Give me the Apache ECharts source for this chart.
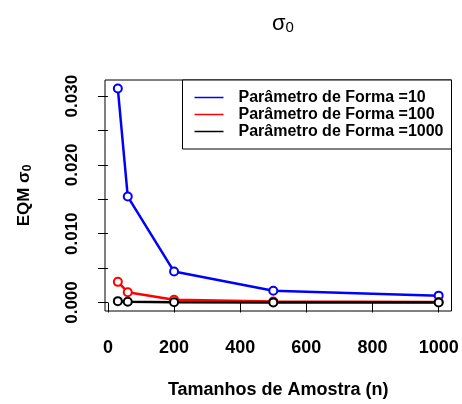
<!DOCTYPE html>
<html>
<head>
<meta charset="utf-8">
<script src="https://cdn.jsdelivr.net/npm/echarts@6/dist/echarts.min.js"></script>
<style>
  html, body { margin: 0; padding: 0; background: #fff; }
  #chart { width: 462px; height: 404px; }
</style>
</head>
<body>
<div id="chart"></div>
<script>
// Sample sizes and mean squared error of sigma_0 for each shape parameter
const sampleSizes = [30, 60, 200, 500, 1000];
const eqmShape10 = [0.0311, 0.0154, 0.0045, 0.0017, 0.0010];
const eqmShape100 = [0.0030, 0.0015, 0.0004, 0.00015, 0.00007];
const eqmShape1000 = [0.0002, 0.0001, 0.00005, 0.00002, 0.00001];
const seriesNames = ['Parâmetro de Forma =10', 'Parâmetro de Forma =100', 'Parâmetro de Forma =1000'];
const seriesColors = ['#0000ff', '#ff0000', '#000000'];

const xTicks = [0, 200, 400, 600, 800, 1000];
const yTicks = [0, 0.005, 0.010, 0.015, 0.020, 0.025, 0.030];
const yTickLabels = [0, 0.010, 0.020, 0.030];

const FONT = 'Liberation Sans, Arial, Helvetica, sans-serif';

// Axis ranges padded by 4% of the data range on each side
function paddedRange(values) {
  const lo = Math.min(...values), hi = Math.max(...values);
  const pad = 0.04 * (hi - lo);
  return [lo - pad, hi + pad];
}
const allY = eqmShape10.concat(eqmShape100, eqmShape1000);
const [xMin, xMax] = paddedRange(sampleSizes);
const [yMin, yMax] = paddedRange(allY);

const seriesData = [eqmShape10, eqmShape100, eqmShape1000];

const chart = echarts.init(document.getElementById('chart'), null, { renderer: 'canvas' });
chart.setOption({
  animation: false,
  backgroundColor: '#ffffff',
  textStyle: { fontFamily: FONT },
  title: {
    text: '{s|σ}{sub|0}',
    left: 278,
    top: 5,
    textAlign: 'center',
    textStyle: {
      rich: {
        s: { fontFamily: FONT, fontSize: 22, fontWeight: 'normal', color: '#000', verticalAlign: 'bottom' },
        sub: { fontFamily: FONT, fontSize: 15, fontWeight: 'normal', color: '#000', padding: [10, 0, 0, 0] }
      }
    }
  },
  grid: {
    left: 105, top: 80, right: 10.5, bottom: 93,
    show: true, borderColor: '#000', borderWidth: 1, backgroundColor: 'transparent'
  },
  legend: {
    orient: 'vertical',
    right: 10.5,
    top: 80,
    padding: [9, 8, 9, 12],
    itemGap: 0,
    itemWidth: 29,
    itemHeight: 1.5,
    borderColor: '#000',
    borderWidth: 1,
    backgroundColor: '#fff',
    itemStyle: { borderWidth: 0 },
    textStyle: {
      fontFamily: FONT, fontSize: 16, fontWeight: 'bold', color: '#000',
      lineHeight: 17, padding: [0, 0, 0, 10]
    },
    data: seriesNames.map((n, i) => ({
      name: n, icon: 'rect',
      itemStyle: { color: seriesColors[i], borderWidth: 0 }
    }))
  },
  xAxis: {
    type: 'value',
    min: xMin, max: xMax,
    name: 'Tamanhos de Amostra (n)',
    nameLocation: 'middle',
    nameGap: 70,
    nameTextStyle: { fontFamily: FONT, fontSize: 18, fontWeight: 'bold', color: '#000' },
    axisLine: { show: false },
    splitLine: { show: false },
    axisTick: { show: true, length: 10, customValues: xTicks, lineStyle: { color: '#000', width: 1 } },
    axisLabel: {
      customValues: xTicks, margin: 28,
      fontFamily: FONT, fontSize: 18, fontWeight: 'bold', color: '#000',
      formatter: v => String(Math.round(v))
    }
  },
  yAxis: {
    type: 'value',
    min: yMin, max: yMax,
    name: '{t|EQM σ}{sub|0}',
    nameLocation: 'middle',
    nameRotate: 90,
    nameGap: 71,
    nameTextStyle: {
      rich: {
        t: { fontFamily: FONT, fontSize: 17, fontWeight: 'bold', color: '#000' },
        sub: { fontFamily: FONT, fontSize: 12, fontWeight: 'bold', color: '#000', padding: [8, 0, 0, 0] }
      }
    },
    axisLine: { show: false },
    splitLine: { show: false },
    axisTick: { show: true, length: 10, customValues: yTicks, lineStyle: { color: '#000', width: 1 } },
    axisLabel: {
      customValues: yTickLabels, margin: 24, rotate: 90,
      fontFamily: FONT, fontSize: 17, fontWeight: 'bold', color: '#000',
      formatter: v => v.toFixed(3)
    }
  },
  series: seriesData.map((vals, i) => ({
    name: seriesNames[i],
    type: 'line',
    data: sampleSizes.map((x, k) => [x, vals[k]]),
    color: seriesColors[i],
    symbol: 'emptyCircle',
    symbolSize: 8,
    lineStyle: { width: 2.5, color: seriesColors[i] },
    itemStyle: { color: seriesColors[i], borderColor: seriesColors[i], borderWidth: 2 },
    emphasis: { disabled: true }
  }))
});
</script>
</body>
</html>
